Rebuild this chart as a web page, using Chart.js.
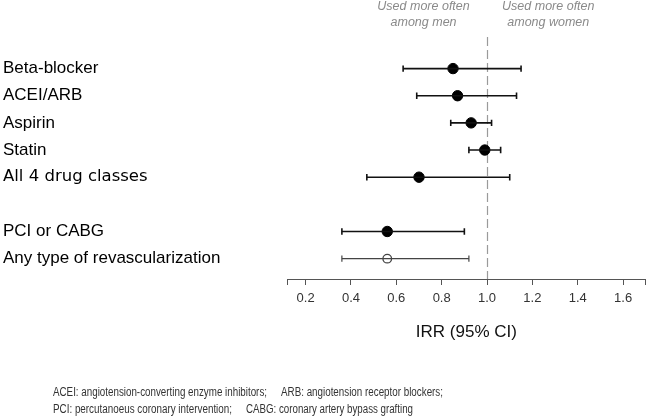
<!DOCTYPE html>
<html>
<head>
<meta charset="utf-8">
<title>IRR forest plot</title>
<script src="https://cdn.jsdelivr.net/npm/chart.js@4/dist/chart.umd.min.js"></script>
<style>
    html, body { margin: 0; padding: 0; background: #fff; }
    #wrap { width: 652px; height: 417px; position: relative; }
</style>
</head>
<body>
<div id="wrap"><canvas id="irrChart"></canvas></div>
<script>
// Rows (blank entry = spacer between drug classes and revascularization)
const categories = ['Beta-blocker', 'ACEI/ARB', 'Aspirin', 'Statin', 'All 4 drug classes', '', 'PCI or CABG', 'Any type of revascularization'];
const irr    = [0.85, 0.87, 0.93, 0.99, 0.70, null, 0.56, 0.56];
const ciLow  = [0.63, 0.69, 0.84, 0.92, 0.47, null, 0.36, 0.36];
const ciHigh = [1.15, 1.13, 1.02, 1.06, 1.10, null, 0.90, 0.92];
const xTickValues = [0.2, 0.4, 0.6, 0.8, 1.0, 1.2, 1.4, 1.6];
const refValue = 1.0;
const headerLabels = [['Used more often', 'among men'], ['Used more often', 'among women']];
const footnoteLines = [
    ['ACEI: angiotension-converting enzyme inhibitors;', 'ARB: angiotension receptor blockers;'],
    ['PCI: percutanoeus coronary intervention;', 'CABG: coronary artery bypass grafting']
];

const FONT = "'Liberation Sans', Arial, sans-serif";
const lastRow = categories.length - 1;

/**
 * Dashed reference line at IRR = 1, header captions and footnote
 */
const annotationPlugin = {
    id: 'annotations',
    beforeDatasetsDraw(chart) {
        const { ctx, chartArea, scales: { x } } = chart;
        const px = Math.round(x.getPixelForValue(refValue)) + 0.5;
        ctx.save();
        ctx.strokeStyle = '#9a9a9a';
        ctx.lineWidth = 1.2;
        ctx.setLineDash([9, 4]);
        ctx.beginPath();
        ctx.moveTo(px, 37);
        ctx.lineTo(px, chartArea.bottom);
        ctx.stroke();
        ctx.restore();
    },
    afterDraw(chart) {
        const { ctx, scales: { x } } = chart;
        ctx.save();
        // captions above the plot
        ctx.fillStyle = '#8a8a8a';
        ctx.font = 'italic 12.5px ' + FONT;
        ctx.textAlign = 'center';
        ctx.textBaseline = 'middle';
        [0.72, 1.27].forEach((v, i) => {
            const cx = x.getPixelForValue(v);
            headerLabels[i].forEach((line, j) => ctx.fillText(line, cx, 7 + j * 16));
        });
        // footnote
        ctx.fillStyle = '#333';
        ctx.font = '12px ' + FONT;
        ctx.textAlign = 'left';
        const parts = [[[53, 214], [281, 162]], [[53, 179], [246, 167]]];
        footnoteLines.forEach((line, i) => {
            line.forEach((txt, j) => {
                ctx.fillText(txt, parts[i][j][0], 393 + i * 17, parts[i][j][1]);
            });
        });
        ctx.restore();
    }
};

// whiskers: one short line dataset per row, end caps via rotated 'line' points
const whiskerSets = categories.map((c, i) => {
    if (ciLow[i] == null) return null;
    const color = i === lastRow ? '#444' : '#111';
    const width = i === lastRow ? 1.2 : 1.6;
    return {
        showLine: true,
        data: [{ x: ciLow[i], y: i }, { x: ciHigh[i], y: i }],
        borderColor: color,
        borderWidth: width,
        pointStyle: 'line',
        rotation: 90,
        pointRadius: 3.2,
        pointHoverRadius: 3.2,
        pointBorderColor: color,
        pointBorderWidth: width
    };
}).filter(Boolean);

const pointSet = {
    showLine: false,
    data: categories.map((c, i) => ({ x: irr[i], y: i })).filter(p => p.x != null),
    pointStyle: 'circle',
    pointRadius: (ctx) => ctx.raw && ctx.raw.y === lastRow ? 4.3 : 5.2,
    pointBackgroundColor: (ctx) => ctx.raw && ctx.raw.y === lastRow ? '#fff' : '#000',
    pointBorderColor: (ctx) => ctx.raw && ctx.raw.y === lastRow ? '#444' : '#000',
    pointBorderWidth: (ctx) => ctx.raw && ctx.raw.y === lastRow ? 1.3 : 1
};

new Chart(document.getElementById('irrChart'), {
    type: 'scatter',
    data: { datasets: [...whiskerSets, pointSet] },
    options: {
        responsive: true,
        maintainAspectRatio: false,
        animation: false,
        layout: { padding: { top: 55, left: 3, right: 4, bottom: 68 } },
        plugins: {
            legend: { display: false },
            tooltip: { enabled: false }
        },
        scales: {
            x: {
                type: 'linear',
                min: 0.118,
                max: 1.70,
                afterBuildTicks: (s) => {
                    s.ticks = [s.min, ...xTickValues, s.max].map(v => ({ value: v }));
                },
                afterFit: (s) => { s.height = 70; },
                grid: { drawOnChartArea: false, drawTicks: true, tickLength: 6, color: '#555' },
                border: { display: true, color: '#555', width: 1 },
                ticks: {
                    autoSkip: false,
                    maxRotation: 0,
                    padding: 6,
                    color: '#333',
                    font: { family: FONT, size: 13 },
                    callback: (v) => xTickValues.includes(v) ? v.toFixed(1) : ''
                },
                title: {
                    display: true,
                    text: 'IRR (95% CI)',
                    color: '#111',
                    font: { family: FONT, size: 17 },
                    padding: { top: 0, bottom: 6 }
                }
            },
            y: {
                type: 'linear',
                reverse: true,
                min: -0.5,
                max: 7.75,
                afterBuildTicks: (s) => {
                    s.ticks = categories.map((c, i) => ({ value: i })).filter(t => categories[t.value]);
                },
                afterFit: (s) => { s.width = 284; },
                grid: { display: false },
                border: { display: false },
                ticks: {
                    autoSkip: false,
                    crossAlign: 'far',
                    color: '#000',
                    font: (ctx) => (ctx.tick && categories[ctx.tick.value] === 'All 4 drug classes')
                        ? { family: "'DejaVu Sans', sans-serif", size: 16.5 }
                        : { family: FONT, size: 17 },
                    callback: (v) => categories[v]
                }
            }
        }
    },
    plugins: [annotationPlugin]
});
</script>
</body>
</html>
